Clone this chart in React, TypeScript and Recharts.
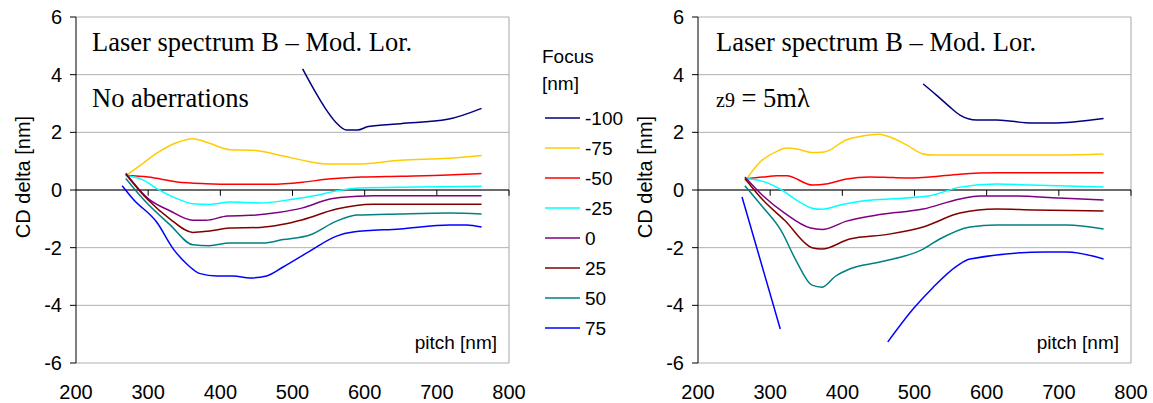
import React from 'react';
import { LineChart, Line, XAxis, YAxis, CartesianGrid, ReferenceLine } from 'recharts';

// pitch [nm] / CD delta [nm] pairs
const leftM100 = [[514, 4.2], [530, 3.47], [545, 2.85], [560, 2.35], [575, 2.08], [590, 2.08], [605, 2.2], [650, 2.3], [715, 2.45], [762, 2.83]];
const leftM75 = [[269, 0.5], [290, 0.87], [312, 1.28], [340, 1.65], [362, 1.78], [385, 1.62], [413, 1.4], [445, 1.38], [487, 1.18], [520, 1.0], [550, 0.9], [590, 0.9], [650, 1.03], [715, 1.1], [762, 1.2]];
const leftM50 = [[269, 0.5], [300, 0.45], [340, 0.28], [380, 0.22], [420, 0.2], [470, 0.2], [514, 0.27], [550, 0.38], [595, 0.45], [650, 0.48], [715, 0.52], [762, 0.57]];
const leftM25 = [[269, 0.5], [293, 0.35], [312, 0.05], [340, -0.3], [362, -0.48], [385, -0.5], [413, -0.42], [455, -0.45], [500, -0.32], [530, -0.2], [561, -0.03], [593, 0.07], [672, 0.1], [762, 0.13]];
const left0 = [[269, 0.58], [300, -0.3], [330, -0.72], [362, -1.05], [380, -1.05], [410, -0.9], [441, -0.88], [480, -0.78], [514, -0.62], [552, -0.31], [590, -0.22], [611, -0.2], [762, -0.2]];
const left25 = [[269, 0.55], [300, -0.35], [330, -1.0], [362, -1.47], [385, -1.42], [413, -1.32], [455, -1.3], [485, -1.2], [514, -1.03], [561, -0.66], [611, -0.49], [762, -0.49]];
const left50 = [[269, 0.4], [293, -0.31], [330, -1.2], [362, -1.9], [385, -1.93], [413, -1.84], [459, -1.84], [487, -1.72], [524, -1.56], [561, -1.08], [589, -0.87], [649, -0.83], [718, -0.8], [762, -0.83]];
const left75 = [[264, 0.15], [279, -0.31], [312, -1.12], [335, -2.05], [355, -2.6], [372, -2.9], [395, -2.98], [418, -2.98], [441, -3.05], [464, -2.98], [487, -2.67], [524, -2.12], [561, -1.6], [584, -1.46], [649, -1.35], [718, -1.21], [741, -1.21], [762, -1.28]];

const rightM100 = [[512, 3.68], [530, 3.3], [548, 2.9], [563, 2.6], [586, 2.43], [614, 2.43], [664, 2.32], [690, 2.32], [762, 2.48]];
const rightM75 = [[265, 0.3], [286, 0.97], [310, 1.35], [323, 1.46], [337, 1.42], [359, 1.3], [375, 1.32], [406, 1.74], [428, 1.87], [450, 1.93], [462, 1.87], [490, 1.55], [512, 1.25], [526, 1.21], [700, 1.21], [762, 1.25]];
const rightM50 = [[265, 0.38], [290, 0.45], [310, 0.49], [323, 0.49], [359, 0.17], [380, 0.22], [406, 0.38], [438, 0.45], [470, 0.43], [498, 0.42], [521, 0.45], [563, 0.55], [614, 0.6], [762, 0.6]];
const rightM25 = [[265, 0.4], [290, 0.3], [314, 0.03], [340, -0.4], [358, -0.63], [372, -0.67], [400, -0.5], [428, -0.38], [465, -0.31], [521, -0.2], [563, 0.1], [614, 0.21], [660, 0.17], [762, 0.1]];
const right0 = [[265, 0.45], [290, -0.2], [320, -0.8], [356, -1.32], [372, -1.37], [406, -1.08], [452, -0.85], [512, -0.66], [563, -0.31], [591, -0.21], [637, -0.21], [700, -0.28], [762, -0.35]];
const right25 = [[265, 0.4], [290, -0.35], [320, -1.05], [358, -2.0], [372, -2.05], [410, -1.7], [465, -1.53], [512, -1.28], [563, -0.8], [614, -0.66], [664, -0.69], [762, -0.73]];
const right50 = [[265, 0.15], [290, -0.6], [315, -1.4], [337, -2.5], [358, -3.3], [372, -3.37], [390, -3.0], [410, -2.74], [452, -2.5], [512, -2.05], [535, -1.7], [577, -1.28], [614, -1.21], [711, -1.21], [762, -1.35]];
const right75 = [[261, -0.24], [314, -4.82], [390, null], [463, -5.27], [498, -4.13], [526, -3.37], [559, -2.63], [577, -2.39], [683, -2.15], [711, -2.15], [762, -2.39]];

const focusLabels = ['-100', '-75', '-50', '-25', '0', '25', '50', '75'];
const COLORS = ['#000080', '#FFCC00', '#FF0000', '#00FFFF', '#800080', '#800000', '#008080', '#0000FF'];

const xTicks = [200, 300, 400, 500, 600, 700, 800];
const yTicks = [-6, -4, -2, 0, 2, 4, 6];

const SANS = '"Liberation Sans", Arial, sans-serif';
const SERIF = '"Liberation Serif", "Times New Roman", serif';

const toPts = (arr: (number | null)[][]) => arr.map(([x, y]) => ({ x, y }));

const Panel = ({ series, left }: { series: (number | null)[][][]; left: number }) => (
  <div style={{ position: 'absolute', left, top: 0 }}>
    <LineChart width={545} height={403} margin={{ top: 17, right: 36, bottom: 0, left: 0 }}>
      <CartesianGrid vertical={false} stroke="#b0b0b0" />
      <XAxis
        dataKey="x"
        type="number"
        domain={[200, 800]}
        ticks={xTicks}
        axisLine={false}
        tickLine={false}
        tickSize={0}
        tickMargin={22}
        height={40}
        tick={{ fill: '#000', fontSize: 20, fontFamily: SANS }}
        allowDataOverflow
      />
      <YAxis
        type="number"
        domain={[-6, 6]}
        ticks={yTicks}
        width={76}
        axisLine={{ stroke: '#000' }}
        tickLine={{ stroke: '#000' }}
        tickSize={6}
        tickMargin={8}
        tick={{ fill: '#000', fontSize: 20, fontFamily: SANS }}
        allowDataOverflow
      />
      <ReferenceLine x={800} stroke="#a6a6a6" />
      <ReferenceLine y={0} stroke="#000" />
      {xTicks.slice(1).map((t) => (
        <ReferenceLine key={t} segment={[{ x: t, y: 0 }, { x: t, y: -0.2 }]} stroke="#000" />
      ))}
      {series.map((s, i) => (
        <Line
          key={focusLabels[i]}
          data={toPts(s)}
          dataKey="y"
          type="monotone"
          stroke={COLORS[i]}
          strokeWidth={1.5}
          dot={false}
          activeDot={false}
          connectNulls={false}
          isAnimationActive={false}
        />
      ))}
    </LineChart>
  </div>
);

export default function App() {
  const leftSeries = [leftM100, leftM75, leftM50, leftM25, left0, left25, left50, left75];
  const rightSeries = [rightM100, rightM75, rightM50, rightM25, right0, right25, right50, right75];
  return (
    <div style={{ position: 'absolute', left: 0, top: 0, width: 1153, height: 403, overflow: 'hidden', background: '#fff' }}>
      <Panel series={leftSeries} left={0} />
      <Panel series={rightSeries} left={622} />
      <svg width={1153} height={403} style={{ position: 'absolute', left: 0, top: 0, pointerEvents: 'none' }}>
        {/* panel annotations */}
        <text x={92} y={51} fontFamily={SERIF} fontSize={26.5}>Laser spectrum B – Mod. Lor.</text>
        <text x={92} y={107} fontFamily={SERIF} fontSize={26.5}>No aberrations</text>
        <text x={716} y={51} fontFamily={SERIF} fontSize={26.5}>Laser spectrum B – Mod. Lor.</text>
        <text x={716} y={107} fontFamily={SERIF}>
          <tspan fontSize={20}>z9</tspan>
          <tspan fontSize={26.5}> = 5mλ</tspan>
        </text>
        <text x={497} y={349} textAnchor="end" fontFamily={SANS} fontSize={19}>pitch [nm]</text>
        <text x={1119} y={349} textAnchor="end" fontFamily={SANS} fontSize={19}>pitch [nm]</text>
        <text transform="translate(30,177) rotate(-90)" textAnchor="middle" fontFamily={SANS} fontSize={20}>CD delta [nm]</text>
        <text transform="translate(652,177) rotate(-90)" textAnchor="middle" fontFamily={SANS} fontSize={20}>CD delta [nm]</text>
        {/* legend */}
        <text x={542} y={63} fontFamily={SANS} fontSize={19}>Focus</text>
        <text x={542} y={90} fontFamily={SANS} fontSize={19}>[nm]</text>
        {focusLabels.map((lab, i) => (
          <g key={lab}>
            <line x1={545} x2={580} y1={118 + i * 30} y2={118 + i * 30} stroke={COLORS[i]} strokeWidth={1.5} />
            <text x={585} y={118 + i * 30} dy="0.36em" fontFamily={SANS} fontSize={19}>{lab}</text>
          </g>
        ))}
      </svg>
    </div>
  );
}
